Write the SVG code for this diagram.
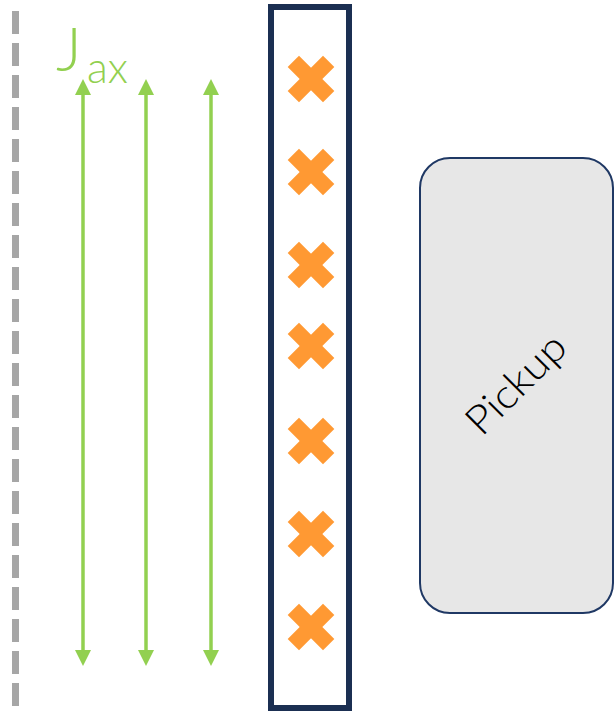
<svg xmlns="http://www.w3.org/2000/svg" width="615" height="711" viewBox="0 0 615 711">
  <style>
    .axis { stroke: #a6a6a6; stroke-width: 7; stroke-dasharray: 23 9; fill: none; }
    .current { stroke: #92d050; stroke-width: 3.5; fill: none; marker-start: url(#head); marker-end: url(#head); }
    .label { font-family: Lato, "Open Sans", "Liberation Sans", sans-serif; font-weight: 300; fill: #92d050; }
    .strip { fill: #ffffff; stroke: #1b2f52; stroke-width: 6; }
    .pickup { fill: #e7e7e7; stroke: #1f3864; stroke-width: 2; }
    .pickup-text { font-family: Lato, "Open Sans", "Liberation Sans", sans-serif; font-size: 40px; font-weight: 300; fill: #000000; }
    .cross { fill: #ff9933; }
  </style>
  <defs>
    <marker id="head" viewBox="0 0 16 16" refX="2" refY="8" markerWidth="16" markerHeight="16" markerUnits="userSpaceOnUse" orient="auto-start-reverse">
      <path d="M0,0 L16,8 L0,16 z" fill="#92d050"/>
    </marker>
    <g id="x-mark">
      <rect x="-25" y="-8" width="50" height="16" transform="rotate(45)"/>
      <rect x="-25" y="-8" width="50" height="16" transform="rotate(-45)"/>
    </g>
  </defs>

  <!-- symmetry axis -->
  <line class="axis" x1="15.5" y1="11" x2="15.5" y2="711"/>

  <!-- axial current arrows -->
  <g id="connectors">
    <line class="current" x1="83" y1="93" x2="83" y2="652"/>
    <line class="current" x1="146" y1="93" x2="146" y2="652"/>
    <line class="current" x1="211" y1="93" x2="211" y2="652"/>
  </g>

  <g id="jax-label">
    <text class="label" x="56" y="71" font-size="62">J</text>
    <text class="label" x="87" y="83" font-size="44" textLength="41" lengthAdjust="spacingAndGlyphs">ax</text>
  </g>

  <!-- conductor strip with out-of-plane markers -->
  <g id="strip">
    <rect class="strip" x="271" y="7" width="78" height="701"/>
    <g class="cross">
      <use href="#x-mark" x="311" y="79"/>
      <use href="#x-mark" x="311" y="172"/>
      <use href="#x-mark" x="311" y="265"/>
      <use href="#x-mark" x="311" y="346"/>
      <use href="#x-mark" x="311" y="441"/>
      <use href="#x-mark" x="311" y="534"/>
      <use href="#x-mark" x="311" y="627"/>
    </g>
  </g>

  <g id="pickup">
    <rect class="pickup" x="420" y="158" width="193" height="455" rx="30" ry="30"/>
    <text class="pickup-text" x="0" y="0" text-anchor="middle" dominant-baseline="central" textLength="124" lengthAdjust="spacingAndGlyphs" transform="translate(515,383) rotate(-45)">Pickup</text>
  </g>
</svg>
